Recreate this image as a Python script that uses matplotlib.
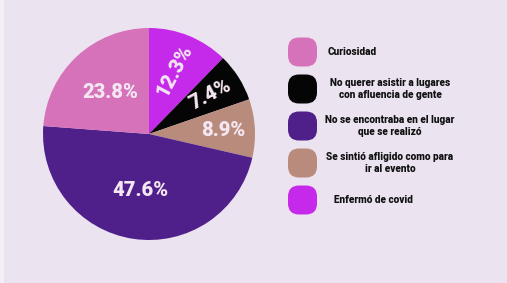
import numpy as np
import matplotlib.pyplot as plt
from matplotlib.patches import FancyBboxPatch, Rectangle

# datos del grafico (orden horario desde arriba)
motivos = ["Enfermó de covid",
           "No querer asistir a lugares\ncon afluencia de gente",
           "Se sintió afligido como para\nir al evento",
           "No se encontraba en el lugar\nque se realizó",
           "Curiosidad"]
porcentajes = [12.3, 7.4, 8.9, 47.6, 23.8]
colores = ["#C52AEA", "#050505", "#B98B7C", "#4F1F8A", "#D672B9"]

# orden de la leyenda
orden_leyenda = [4, 1, 3, 2, 0]

fondo = "#ECE3F1"
texto_pct = "#F4E6F2"

fig = plt.figure(figsize=(5.07, 2.83), dpi=100)
fig.patch.set_facecolor(fondo)

W, H = 507, 283
cx, cy, r = 149, 134, 106
ax = fig.add_axes([(cx - r) / W, (H - cy - r) / H, 2 * r / W, 2 * r / H])
wedges, _ = ax.pie(porcentajes, colors=colores, startangle=90,
                   counterclock=False, radius=1,
                   wedgeprops=dict(linewidth=0))
ax.set_xlim(-1, 1)
ax.set_ylim(-1, 1)
ax.set_aspect("equal")
ax.axis("off")

# posicion y giro de cada etiqueta
distancias = [0.64, 0.69, 0.70, 0.54, 0.53]
giros = [62, 28, 0, 0, 0]
for w, p, d, g in zip(wedges, porcentajes, distancias, giros):
    ang = np.deg2rad((w.theta1 + w.theta2) / 2)
    ax.text(d * np.cos(ang), d * np.sin(ang), f"{p}%", ha="center",
            va="center", rotation=g, color=texto_pct, fontsize=14.5,
            fontweight="heavy", family="Roboto")

# leyenda a mano
lg = fig.add_axes([0, 0, 1, 1])
lg.set_xlim(0, W)
lg.set_ylim(H, 0)
lg.axis("off")
lg.patch.set_alpha(0)
lg.add_patch(Rectangle((0, 0), 4, H, facecolor="#F4EFF7", edgecolor="none"))
lado = 29
for k, i in enumerate(orden_leyenda):
    yc = 52 + k * 37
    caja = FancyBboxPatch((288, yc - lado / 2), lado, lado,
                          boxstyle="round,pad=0,rounding_size=11",
                          facecolor=colores[i], edgecolor="none")
    lg.add_patch(caja)
    xt = 352 if i == 4 else (373 if i == 0 else 390)
    lg.text(xt, yc, motivos[i], ha="center", va="center", fontsize=7.2,
            fontweight="heavy", color="#111111", linespacing=1.3,
            family="Roboto")

fig.savefig("out.png", dpi=100, facecolor=fondo)
